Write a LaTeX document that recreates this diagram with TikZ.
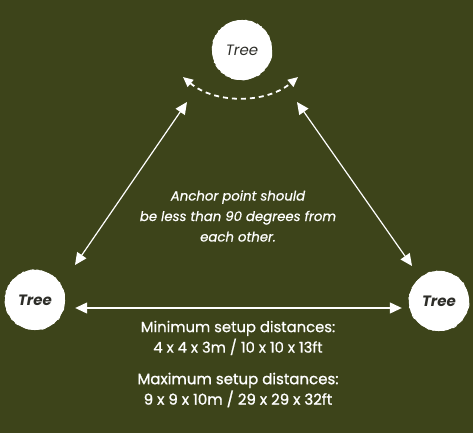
\documentclass[tikz,border=0pt]{standalone}
\usepackage{fontspec}
\setmainfont{Poppins}
\newfontfamily\notefont{Poppins}[FakeBold=0.6]
\newfontfamily\maxfont{Poppins}[FakeBold=1.2]
\usepackage{tikz}
\usetikzlibrary{arrows.meta,calc,positioning,decorations.pathmorphing}
\definecolor{olive}{RGB}{61,68,26}
\definecolor{bark}{RGB}{45,45,40}

\begin{document}
\begin{tikzpicture}[x=1pt,y=-1pt]
            \tikzstyle{tree} = [circle,fill=white,minimum size=60pt,inner sep=0pt,text=bark,font=\fontsize{15}{16}\selectfont\itshape]
            \tikzstyle{edge} = [white,line width=1.2pt,{Triangle[length=12pt,width=11pt]}-{Triangle[length=12pt,width=11pt]}]
            \tikzstyle{note} = [white,align=center,font=\notefont\fontsize{14.8}{20.5}\selectfont]

            \fill[olive] (0,0) rectangle (473,433);
            \useasboundingbox (0,0) rectangle (473,433);

            \node[tree] (T) at (242,50) {Tree};
            \node[tree,font=\fontsize{15}{16}\selectfont\bfseries\itshape] (L) at (35,300) {Tree};
            \node[tree,font=\fontsize{15}{16}\selectfont\bfseries\itshape] (R) at (439,301) {Tree};

            % rough bark edge
            \foreach \t in {T,L,R}
                \draw[white,line width=1pt,decorate,decoration={random steps,segment length=2pt,amplitude=0.7pt}] (\t) circle (29.5pt);

            \coordinate (TL) at (187,102);
            \coordinate (LT) at (75,265);
            \coordinate (TR) at (297,102);
            \coordinate (RT) at (412,266);
            \coordinate (LR) at ($(L.east)+(10,8)$);
            \coordinate (RL) at ($(R.west)+(-7,7)$);
            \coordinate (dl) at (183,77);
            \coordinate (dr) at (298,77);

            \draw[edge] (TL) -- (LT);
            \draw[edge] (TR) -- (RT);
            \draw[edge] (LR) -- (RL);
            \draw[white,line width=1.8pt,dash pattern=on 5pt off 4pt,{Triangle[length=10pt,width=9pt]}-{Triangle[length=10pt,width=9pt]}]
                (dl) .. controls (215,104) and (266,104) .. (dr);

            \node[note,font=\notefont\fontsize{13.3}{20.5}\selectfont\itshape] (anchor) at (238,216)
                {Anchor point should\\be less than 90 degrees from\\each other.};
            \node[note] (min) at (238,338) {Minimum setup distances:\\4 x 4 x 3m / 10 x 10 x 13ft};
            \node[note,font=\maxfont\fontsize{15}{20.5}\selectfont] (max) at (238,390) {Maximum setup distances:\\9 x 9 x 10m / 29 x 29 x 32ft};
        \end{tikzpicture}
\end{document}
